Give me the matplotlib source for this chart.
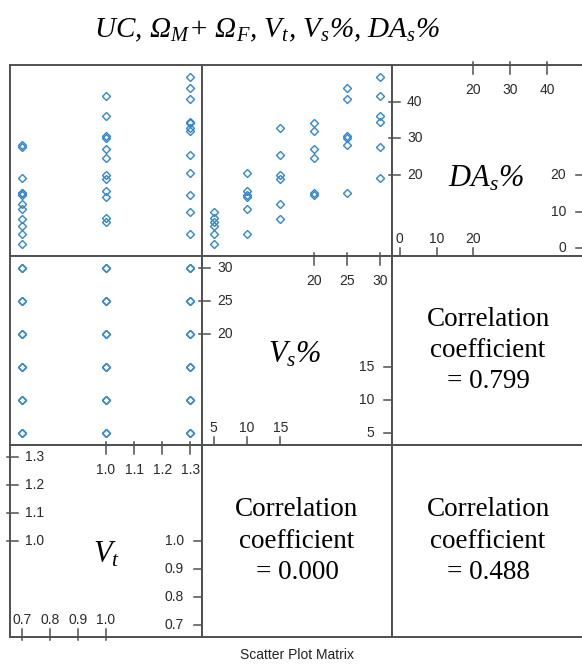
import matplotlib
matplotlib.use("Agg")
import matplotlib.pyplot as plt

plt.rcParams.update({
    'font.family': 'Liberation Serif',
    'mathtext.fontset': 'custom',
    # the reference sets every math symbol (Omega, %) in italic
    'mathtext.rm': 'Liberation Serif:italic',
    'mathtext.it': 'Liberation Serif:italic',
    'mathtext.bf': 'Liberation Serif:bold',
})

vt = [0.7, 0.7, 1.0, 1.0, 1.3, 1.3,
      0.7, 0.7, 1.0, 1.0, 1.3, 1.3,
      0.7, 0.7, 1.0, 1.0, 1.3, 1.3,
      0.7, 0.7, 1.0, 1.0, 1.3, 1.3,
      0.7, 0.7, 1.0, 1.0, 1.3, 1.3,
      0.7, 0.7, 1.0, 1.0, 1.3, 1.3]
vs = [5, 5, 5, 5, 5, 5,
      10, 10, 10, 10, 10, 10,
      15, 15, 15, 15, 15, 15,
      20, 20, 20, 20, 20, 20,
      25, 25, 25, 25, 25, 25,
      30, 30, 30, 30, 30, 30]
das = [6.1, 1.1, 8.4, 7.2, 9.8, 3.9,
       10.8, 3.9, 15.6, 14.1, 20.5, 14.5,
       12.1, 7.9, 20.0, 18.9, 32.7, 25.5,
       15.0, 14.5, 27.0, 24.5, 34.1, 32.1,
       28.3, 15.2, 30.7, 30.2, 43.7, 40.8,
       27.6, 19.2, 41.5, 36.2, 46.8, 34.4]

# diagonal tick sets (lower half / upper half)
vt_lo = [0.7, 0.8, 0.9, 1.0]
vt_hi = [1.0, 1.1, 1.2, 1.3]
vs_lo = [5, 10, 15]
vs_hi = [20, 25, 30]
das_lo = [0, 10, 20]
das_hi = [20, 30, 40]

corr_vs_das = 0.799
corr_vt_vs = 0.000
corr_vt_das = 0.488

title = r'UC, $\Omega_M$+ $\Omega_F$, $V_t$, $V_s$%, $DA_s$%'

W, H = 582, 664
cols = [10, 202, 392, 584]
rows = [65, 256, 445, 637]
pt_col = '#2f86d0'
edge = '#505050'
tick_col = '#2a2a2a'


def lims(v):
    lo, hi = min(v), max(v)
    d = hi - lo
    return lo - 0.07 * d, hi + 0.07 * d


def panel(r, c):
    x0, x1 = cols[c], cols[c + 1]
    y0, y1 = rows[r], rows[r + 1]
    ax = fig.add_axes([x0 / W, 1 - y1 / H, (x1 - x0) / W, (y1 - y0) / H])
    ax.set_xticks([])
    ax.set_yticks([])
    for s in ax.spines.values():
        s.set_color(edge)
        s.set_linewidth(1.4)
    return ax


def scatter(ax, x, y):
    ax.plot(x, y, ls='none', marker='D', ms=4.5, mfc='none', mec=pt_col, mew=1.0)
    ax.set_xlim(lims(x))
    ax.set_ylim(lims(y))


def diag(ax, v, lo, hi, name, nx, ny, fmt):
    ax.set_xlim(lims(v))
    ax.set_ylim(lims(v))
    bw, bh = ax.bbox.width, ax.bbox.height
    tf_x = ax.get_xaxis_transform()
    tf_y = ax.get_yaxis_transform()
    kw = dict(textcoords='offset pixels', fontsize=10, color=tick_col,
              family='Liberation Sans', annotation_clip=False)
    for t in lo:
        # bottom ticks, labels above
        ax.plot([t, t], [-3 / bh, 8 / bh], transform=tf_x, color=edge, lw=1.1, clip_on=False)
        ax.annotate(fmt % t, (t, 0), xycoords=tf_x, xytext=(0, 13), ha='center', va='baseline', **kw)
        # right ticks, labels to the left
        ax.plot([1 + 3 / bw, 1 - 8 / bw], [t, t], transform=tf_y, color=edge, lw=1.1, clip_on=False)
        ax.annotate(fmt % t, (1, t), xycoords=tf_y, xytext=(-18, 0), ha='right', va='center', **kw)
    for t in hi:
        # top ticks, labels below
        ax.plot([t, t], [1 + 3 / bh, 1 - 9 / bh], transform=tf_x, color=edge, lw=1.1, clip_on=False)
        ax.annotate(fmt % t, (t, 1), xycoords=tf_x, xytext=(0, -18), ha='center', va='top', **kw)
        # left ticks, labels to the right
        ax.plot([-3 / bw, 8 / bw], [t, t], transform=tf_y, color=edge, lw=1.1, clip_on=False)
        ax.annotate(fmt % t, (0, t), xycoords=tf_y, xytext=(15, 0), ha='left', va='center', **kw)
    ax.text(nx, ny, name, transform=ax.transAxes, ha='center', va='baseline', fontsize=22)


def corr_text(ax, val):
    ax.text(0.5, 0.5, 'Correlation\ncoefficient\n= %.3f' % val, transform=ax.transAxes,
            ha='center', va='center', fontsize=19.5, linespacing=1.32,
            family='Liberation Serif')


fig = plt.figure(figsize=(W / 100, H / 100), dpi=100)

ax = panel(0, 0)
scatter(ax, vt, das)
ax = panel(0, 1)
scatter(ax, vs, das)
ax = panel(0, 2)
diag(ax, das, das_lo, das_hi, r'$DA_s\%$', 0.49, 0.366, '%d')

ax = panel(1, 0)
scatter(ax, vt, vs)
ax = panel(1, 1)
diag(ax, vs, vs_lo, vs_hi, r'$V_s\%$', 0.49, 0.434, '%d')
ax = panel(1, 2)
corr_text(ax, corr_vs_das)

ax = panel(2, 0)
diag(ax, vt, vt_lo, vt_hi, r'$V_t$', 0.505, 0.39, '%.1f')
ax = panel(2, 1)
corr_text(ax, corr_vt_vs)
ax = panel(2, 2)
corr_text(ax, corr_vt_das)

fig.text(267 / W, 1 - 37 / H, title, ha='center', va='baseline', fontsize=21, style='italic')
fig.text(297 / W, 1 - 655 / H, 'Scatter Plot Matrix', ha='center', va='center',
         fontsize=10, family='Liberation Sans', color='#222222')

fig.savefig('out.png', dpi=100)
